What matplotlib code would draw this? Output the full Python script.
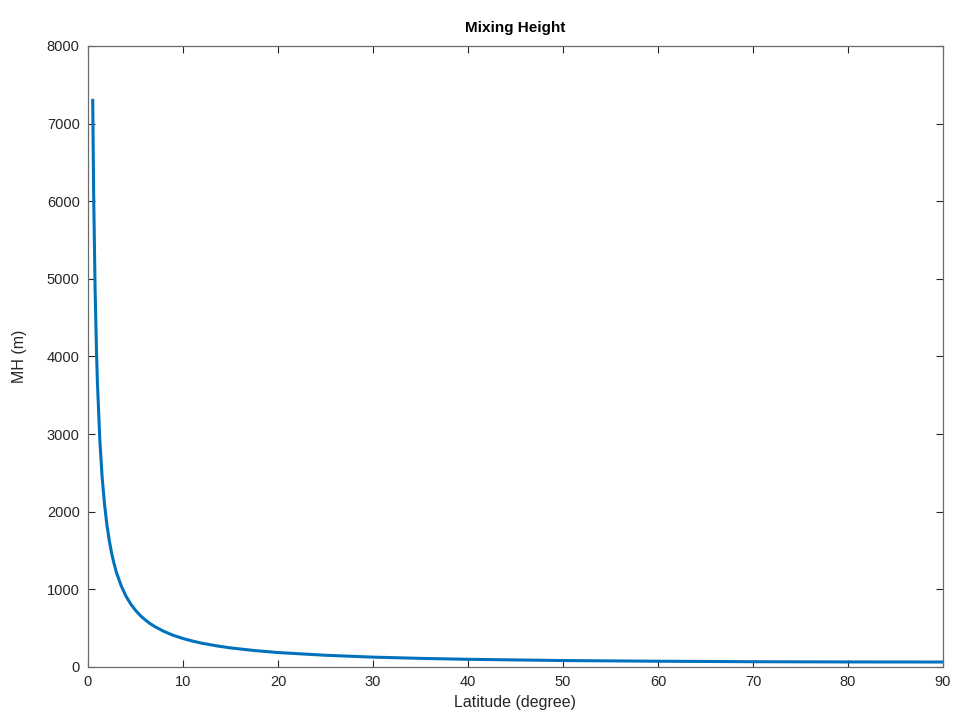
import matplotlib
matplotlib.use("Agg")
import matplotlib.pyplot as plt

# values
latitude = [0.5, 0.6, 0.75, 0.9, 1.0, 1.25, 1.5, 1.75, 2.0, 2.25, 2.5, 2.75, 3.0, 3.5,
            4.0, 4.5, 5.0, 5.5, 6.0, 6.5, 7.0, 8.0, 9.0, 10.0, 11.0, 12.0, 13.5,
            15.0, 17.5, 20.0, 25.0, 30.0, 35.0, 40.0, 50.0, 60.0, 70.0, 80.0, 90.0]
mixing_height = [7300, 6090, 4870, 4060, 3650, 2920, 2430, 2090, 1825, 1625, 1460,
                 1330, 1217, 1045, 913, 812, 731, 664, 609, 562, 523, 458, 407,
                 367, 334, 306, 273, 246, 212, 186, 151, 127, 111, 99, 83, 74, 68,
                 65, 64]

xticks = list(range(0, 91, 10))
yticks = list(range(0, 8001, 1000))

plt.rcParams['font.family'] = ['Liberation Sans', 'DejaVu Sans']
text_col = '#262626'

fig = plt.figure(figsize=(9.54, 7.22), dpi=100)
ax = fig.add_axes([0.0922, 0.0762, 0.8963, 0.8601])

ax.plot(latitude, mixing_height, color='#0072BD', linewidth=2.2)

ax.set_xlim(0, 90)
ax.set_ylim(0, 8000)
ax.set_xticks(xticks)
ax.set_yticks(yticks)
ax.tick_params(direction='in', top=True, right=True, length=5, width=0.8,
               labelsize=10.5, colors=text_col, pad=6)
for s in ax.spines.values():
    s.set_color('#6b6b6b')
    s.set_linewidth(0.9)

ax.set_title('Mixing Height', fontsize=11, fontweight='bold', color='black', pad=10)
ax.set_xlabel('Latitude (degree)', fontsize=11.5, color=text_col, labelpad=4)
ax.set_ylabel('MH (m)', fontsize=11.5, color=text_col, labelpad=14)

fig.savefig('out.png', dpi=100)
